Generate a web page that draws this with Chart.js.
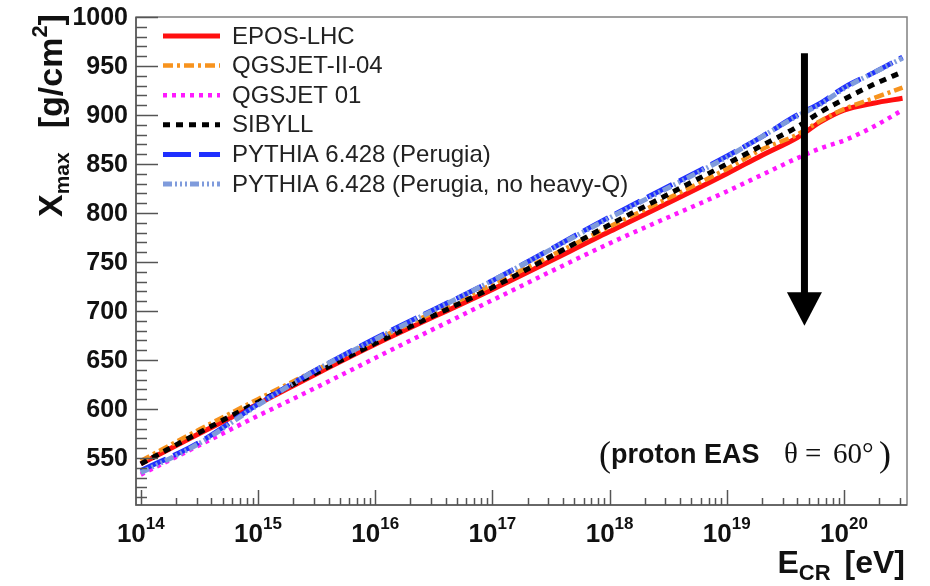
<!DOCTYPE html>
<html>
<head>
<meta charset="utf-8">
<script src="https://cdn.jsdelivr.net/npm/chart.js@4.4.1/dist/chart.umd.min.js"></script>
<style>
html, body { margin: 0; padding: 0; background: #fff; }
#wrap { width: 930px; height: 586px; }
</style>
</head>
<body>
<div id="wrap"><canvas id="grafica" width="930" height="586"></canvas></div>
<script>
// --- DATOS ---
const energias     = [1e14, 3.16e14, 1e15, 3.16e15, 1e16, 1e17, 1e18, 1e19, 2e19, 4e19, 6.3e19, 1e20, 1.78e20, 3.16e20];
const xmaxEPOS     = [544, 575, 605, 636, 666, 722, 781, 840, 859, 877, 893, 905, 912, 917];
const xmaxQGSII    = [547, 579, 610, 640, 670, 727, 786, 845, 865, 880, 894, 906, 917, 928];
const xmaxQGS01    = [533, 563, 593, 622, 652, 711, 769, 822, 839, 856, 866, 874, 888, 905];
const xmaxSIBYLL   = [544, 576, 607, 637, 667, 724, 788, 850, 869, 888, 903, 916, 931, 944];
const xmaxPYTHIA   = [537, 566, 605, 640, 672, 731, 796, 858, 878, 900, 912, 928, 943, 959];
const xmaxPYTHIAnq = [535, 565, 604, 640, 671, 731, 795, 857, 878, 899, 911, 927, 943, 958];

const nombres = ['EPOS-LHC', 'QGSJET-II-04', 'QGSJET 01', 'SIBYLL', 'PYTHIA 6.428 (Perugia)', 'PYTHIA 6.428 (Perugia, no heavy-Q)'];

const decadas  = [14, 15, 16, 17, 18, 19, 20];
const ticksY   = [550, 600, 650, 700, 750, 800, 850, 900, 950, 1000];
const rangoX   = [9.1e13, 3.45e20];
const rangoY   = [502, 1000];

// flecha vertical (E, Xmax desde, Xmax hasta)
const flechaE = 4.6e19;
const flechaDesde = 963;
const flechaBase = 719;
const flechaPunta = 685;

const FUENTE = '"Liberation Sans", Arial, Helvetica, sans-serif';
const SERIF  = '"Liberation Serif", "Times New Roman", serif';

// helper para armar cada serie
const serie = (i, valores, color, ancho, dash, orden) => ({
    label: nombres[i],
    data: energias.map((e, k) => ({ x: e, y: valores[k] })),
    borderColor: color,
    borderWidth: ancho,
    borderDash: dash,
    borderCapStyle: 'butt',
    pointRadius: 0,
    cubicInterpolationMode: 'monotone',
    fill: false,
    order: orden
});

const datasets = [
    serie(0, xmaxEPOS,     '#ff1010', 5,   [],                         6),
    serie(1, xmaxQGSII,    '#f7931e', 4.5, [10, 4, 3, 4],              5),
    serie(2, xmaxQGS01,    '#ff19ff', 4.5, [4, 5],                     4),
    serie(3, xmaxSIBYLL,   '#000000', 5,   [7, 6],                     3),
    serie(4, xmaxPYTHIA,   '#1f2fff', 5,   [28, 8],                    2),
    serie(5, xmaxPYTHIAnq, '#7f9bdc', 5,   [9, 3, 2, 3, 2, 3, 2, 3],  1)
];

// dibuja texto con partes (sub/superindices)
function textoRico(ctx, partes, x, y, alinear) {
    let total = 0;
    partes.forEach(p => { ctx.font = p.font; total += ctx.measureText(p.t).width + (p.gap || 0); });
    let cx = alinear === 'center' ? x - total / 2 : (alinear === 'right' ? x - total : x);
    partes.forEach(p => {
        ctx.font = p.font;
        ctx.fillText(p.t, cx, y + (p.dy || 0));
        cx += ctx.measureText(p.t).width + (p.gap || 0);
    });
}

const decoracion = {
    id: 'decoracion',
    afterDraw(chart) {
        const ctx = chart.ctx;
        const sx = chart.scales.x, sy = chart.scales.y;
        const a = chart.chartArea;
        ctx.save();

        // marco
        ctx.strokeStyle = '#808080';
        ctx.lineWidth = 1.5;
        ctx.strokeRect(a.left, a.top, a.right - a.left, a.bottom - a.top);
        ctx.strokeStyle = '#555';
        ctx.beginPath();
        ctx.moveTo(a.left, a.top); ctx.lineTo(a.left, a.bottom); ctx.lineTo(a.right, a.bottom);
        ctx.stroke();

        // ticks eje Y (hacia dentro)
        ctx.lineWidth = 1.5;
        ctx.strokeStyle = '#555';
        for (let v = Math.ceil(rangoY[0] / 10) * 10; v <= rangoY[1]; v += 10) {
            const py = Math.round(sy.getPixelForValue(v)) + 0.5;
            const largo = ticksY.includes(v) ? 22 : 11;
            ctx.beginPath(); ctx.moveTo(a.left, py); ctx.lineTo(a.left + largo, py); ctx.stroke();
        }
        // ticks eje X (log)
        decadas.forEach(n => {
            for (let k = 1; k <= 9; k++) {
                const v = k * Math.pow(10, n);
                if (v < rangoX[0] || v > rangoX[1]) continue;
                const px = Math.round(sx.getPixelForValue(v)) + 0.5;
                const largo = k === 1 ? 15 : 7;
                ctx.beginPath(); ctx.moveTo(px, a.bottom); ctx.lineTo(px, a.bottom - largo); ctx.stroke();
            }
        });

        // etiquetas
        ctx.fillStyle = '#111';
        ctx.textBaseline = 'middle';
        ctx.textAlign = 'right';
        ctx.font = 'bold 25px ' + FUENTE;
        ticksY.forEach(v => ctx.fillText(String(v), 128, sy.getPixelForValue(v) + 1));

        ctx.textBaseline = 'alphabetic';
        ctx.textAlign = 'left';
        decadas.forEach(n => {
            const px = sx.getPixelForValue(Math.pow(10, n));
            textoRico(ctx, [
                { t: '10', font: 'bold 26px ' + FUENTE },
                { t: String(n), font: 'bold 17px ' + FUENTE, dy: -13 }
            ], px, 542, 'center');
        });

        // titulos de ejes
        textoRico(ctx, [
            { t: 'E', font: 'bold 32px ' + FUENTE },
            { t: 'CR', font: 'bold 22px ' + FUENTE, dy: 7, gap: 14 },
            { t: '[eV]', font: 'bold 32px ' + FUENTE }
        ], 905, 573, 'right');

        ctx.save();
        ctx.translate(62, 217);
        ctx.rotate(-Math.PI / 2);
        textoRico(ctx, [
            { t: 'X', font: 'bold 34px ' + FUENTE },
            { t: 'max', font: 'bold 21px ' + FUENTE, dy: 7, gap: 24 },
            { t: '[g/cm', font: 'bold 34px ' + FUENTE },
            { t: '2', font: 'bold 22px ' + FUENTE, dy: -15 },
            { t: ']', font: 'bold 34px ' + FUENTE }
        ], 0, 0, 'left');
        ctx.restore();

        // leyenda
        ctx.textBaseline = 'middle';
        ctx.font = '24px ' + FUENTE;
        chart.data.datasets.forEach((ds, i) => {
            const y = 36 + i * 29.6;
            ctx.strokeStyle = ds.borderColor;
            ctx.lineWidth = ds.borderWidth;
            ctx.lineCap = 'butt';
            ctx.setLineDash(ds.borderDash);
            ctx.beginPath(); ctx.moveTo(163, y); ctx.lineTo(220, y); ctx.stroke();
            ctx.setLineDash([]);
            ctx.fillStyle = '#222';
            ctx.fillText(ds.label, 232, y + 1);
        });

        // flecha
        const fx = sx.getPixelForValue(flechaE);
        const y0 = sy.getPixelForValue(flechaDesde);
        const yb = sy.getPixelForValue(flechaBase);
        const yp = sy.getPixelForValue(flechaPunta);
        ctx.fillStyle = '#000';
        ctx.fillRect(fx - 3.5, y0, 7, yb - y0 + 1);
        ctx.beginPath();
        ctx.moveTo(fx - 17.5, yb); ctx.lineTo(fx + 17.5, yb); ctx.lineTo(fx, yp); ctx.closePath();
        ctx.fill();

        // anotacion
        ctx.textBaseline = 'alphabetic';
        ctx.fillStyle = '#111';
        ctx.font = '36px ' + SERIF;
        ctx.fillText('(', 599, 466);
        ctx.fillText(')', 879, 466);
        ctx.font = 'bold 27px ' + FUENTE;
        ctx.fillText('proton EAS', 611, 463);
        ctx.font = '29px ' + SERIF;
        ctx.fillText('\u03B8', 784, 463);
        ctx.fillText('=', 805, 463);
        ctx.fillText('60\u00B0', 833, 463);

        ctx.restore();
    }
};

const sinEje = { ticks: { display: false, padding: 0 }, grid: { display: false, drawTicks: false, tickLength: 0 }, border: { display: false } };

new Chart(document.getElementById('grafica'), {
    type: 'line',
    data: { datasets },
    options: {
        responsive: false,
        animation: false,
        devicePixelRatio: 1,
        layout: { padding: { left: 136, right: 23, top: 17, bottom: 81 } },
        plugins: { legend: { display: false }, tooltip: { enabled: false } },
        scales: {
            x: Object.assign({ type: 'logarithmic', min: rangoX[0], max: rangoX[1] }, sinEje),
            y: Object.assign({ type: 'linear', min: rangoY[0], max: rangoY[1] }, sinEje)
        }
    },
    plugins: [decoracion]
});
</script>
</body>
</html>
